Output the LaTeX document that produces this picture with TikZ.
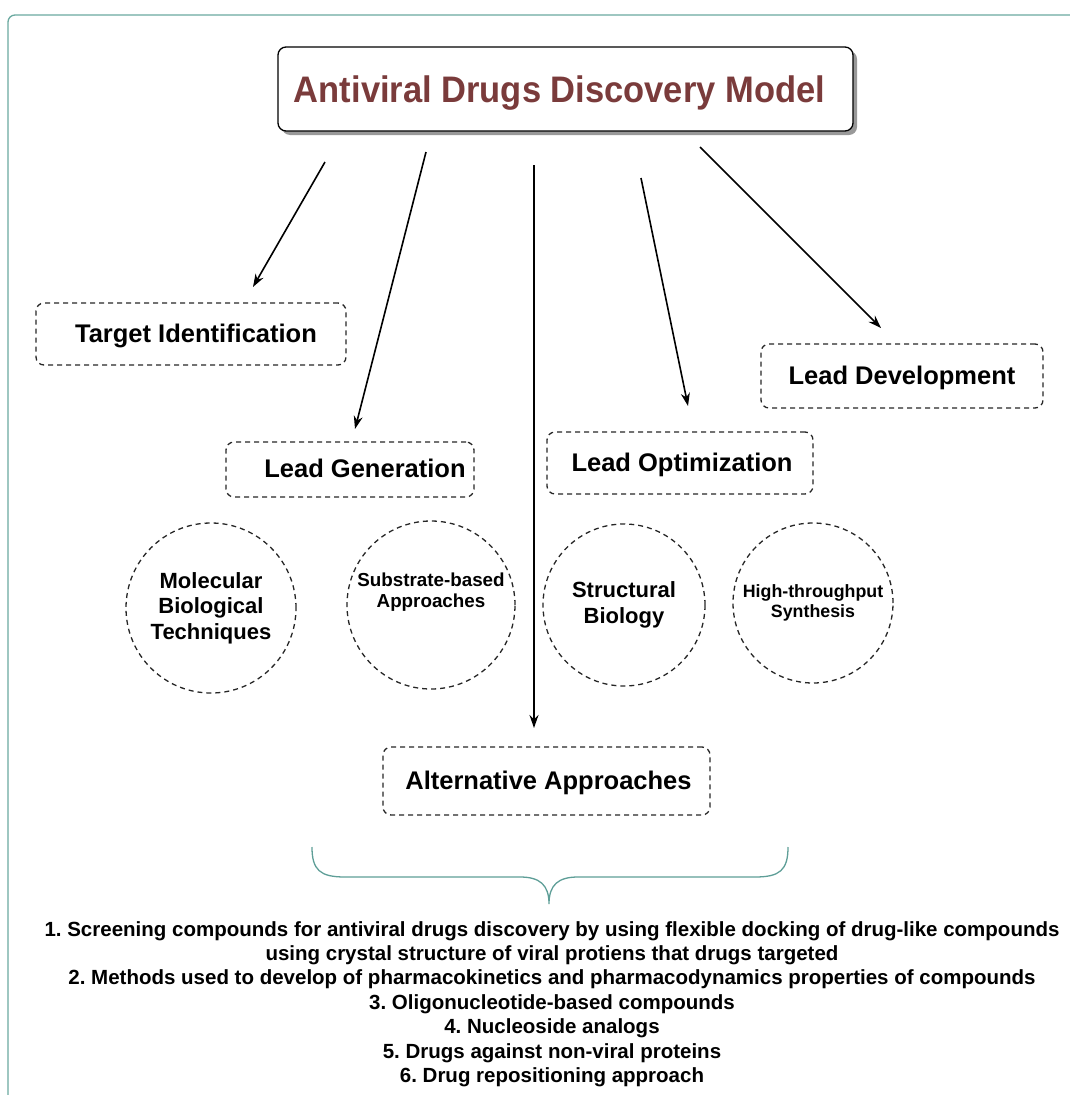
\documentclass[tikz,border=0pt]{standalone}
\usepackage{fontspec}
\setmainfont{Liberation Sans}
\usetikzlibrary{arrows.meta,shapes.geometric}
\definecolor{frameteal}{HTML}{6AA9A0}
\definecolor{bracet}{HTML}{5E9E97}
\definecolor{titlered}{HTML}{7A3B3B}
\frenchspacing
\begin{document}
\begin{tikzpicture}[x=1pt,y=-1pt,
  dbox/.style={draw=black!85,dash pattern=on 5pt off 4pt,line width=1.3pt,rounded corners=8pt,inner sep=0pt,
    text height=18.3pt,text depth=2pt,font=\bfseries\fontsize{25.5}{30}\selectfont},
  dcirc/.style={draw=black!85,dash pattern=on 5pt off 4pt,line width=1.3pt,circle,inner sep=0pt,align=center},
  conn/.style={line width=1.6pt,-{Stealth[length=13pt,width=9pt]}}]
\useasboundingbox (0,0) rectangle (1070,1095);
% outer frame
\draw[frameteal,line width=1.3pt,rounded corners=7pt] (8,1110) -- (8,15) -- (1090,15);
% title
\fill[black!40,rounded corners=8pt] (282,51) rectangle (857,135);
\node[draw=black,line width=1.3pt,fill=white,rounded corners=8pt,minimum width=575pt,minimum height=84pt,inner sep=0pt,
  text height=26pt,text depth=0pt,
  text=titlered,font=\bfseries\fontsize{34.5}{40}\selectfont] (title) at (565.5,89) {\hspace*{-12pt}\scalebox{1}[1.07]{Antiviral Drugs Discovery Model}};
% boxes
\node[dbox,minimum width=310pt,minimum height=62pt] (target) at (191,334) {\hspace*{10pt}Target Identification};
\node[dbox,minimum width=248pt,minimum height=55pt] (leadgen) at (350,469.5) {\hspace*{30pt}Lead Generation};
\node[dbox,minimum width=266pt,minimum height=62pt] (leadopt) at (680,463) {\hspace*{4pt}Lead Optimization};
\node[dbox,minimum width=282pt,minimum height=64pt] (leaddev) at (902,376) {Lead Development};
\node[dbox,minimum width=327pt,minimum height=68pt] (alt) at (546.5,781) {\hspace*{4pt}Alternative Approaches};
% circles
\node[dcirc,minimum size=170pt,font=\bfseries\fontsize{22}{25.5}\selectfont] (mol) at (211,608) {Molecular\\Biological\\Techniques};
\node[dcirc,minimum size=168pt,font=\bfseries\fontsize{18.8}{21}\selectfont] (sub) at (431,605) {Substrate-based\\Approaches\\[8pt]};
\node[dcirc,minimum size=162pt,font=\bfseries\fontsize{22}{26}\selectfont] (struc) at (624,605) {Structural\\Biology};
\node[dcirc,minimum size=160pt,font=\bfseries\fontsize{17.8}{20}\selectfont] (hts) at (813,603) {High-throughput\\Synthesis};
% arrows
\coordinate (s1) at (325,162); \coordinate (e1) at (253,287);
\coordinate (s2) at (426,152); \coordinate (e2) at (355,429);
\coordinate (s3) at (534,165); \coordinate (e3) at (534,728);
\coordinate (s4) at (641,178); \coordinate (e4) at (688,406);
\coordinate (s5) at (700,147); \coordinate (e5) at (881,328);
\draw[conn] (s1) -- (e1);
\draw[conn] (s2) -- (e2);
\draw[conn] (s3) -- (e3);
\draw[conn] (s4) -- (e4);
\draw[conn] (s5) -- (e5);
% brace
\draw[bracet,line width=1.3pt] (312,847) .. controls (312,870) and (320,877) .. (345,877) -- (520,877)
  .. controls (540,877) and (549,885) .. (549,904) .. controls (549,885) and (558,877) .. (578,877)
  -- (755,877) .. controls (780,877) and (788,870) .. (788,847);
% list
\node[align=center,inner sep=0pt,font=\bfseries\fontsize{20.5}{24.4}\selectfont] (list) at (552,1004) {1. Screening compounds for antiviral drugs discovery by using flexible docking of drug-like compounds\\
using crystal structure of viral protiens that drugs targeted\\
2. Methods used to develop of pharmacokinetics and pharmacodynamics properties of compounds\\
3. Oligonucleotide-based compounds\\
4. Nucleoside analogs\\
5. Drugs against non-viral proteins\\
6. Drug repositioning approach};
\end{tikzpicture}
\end{document}
